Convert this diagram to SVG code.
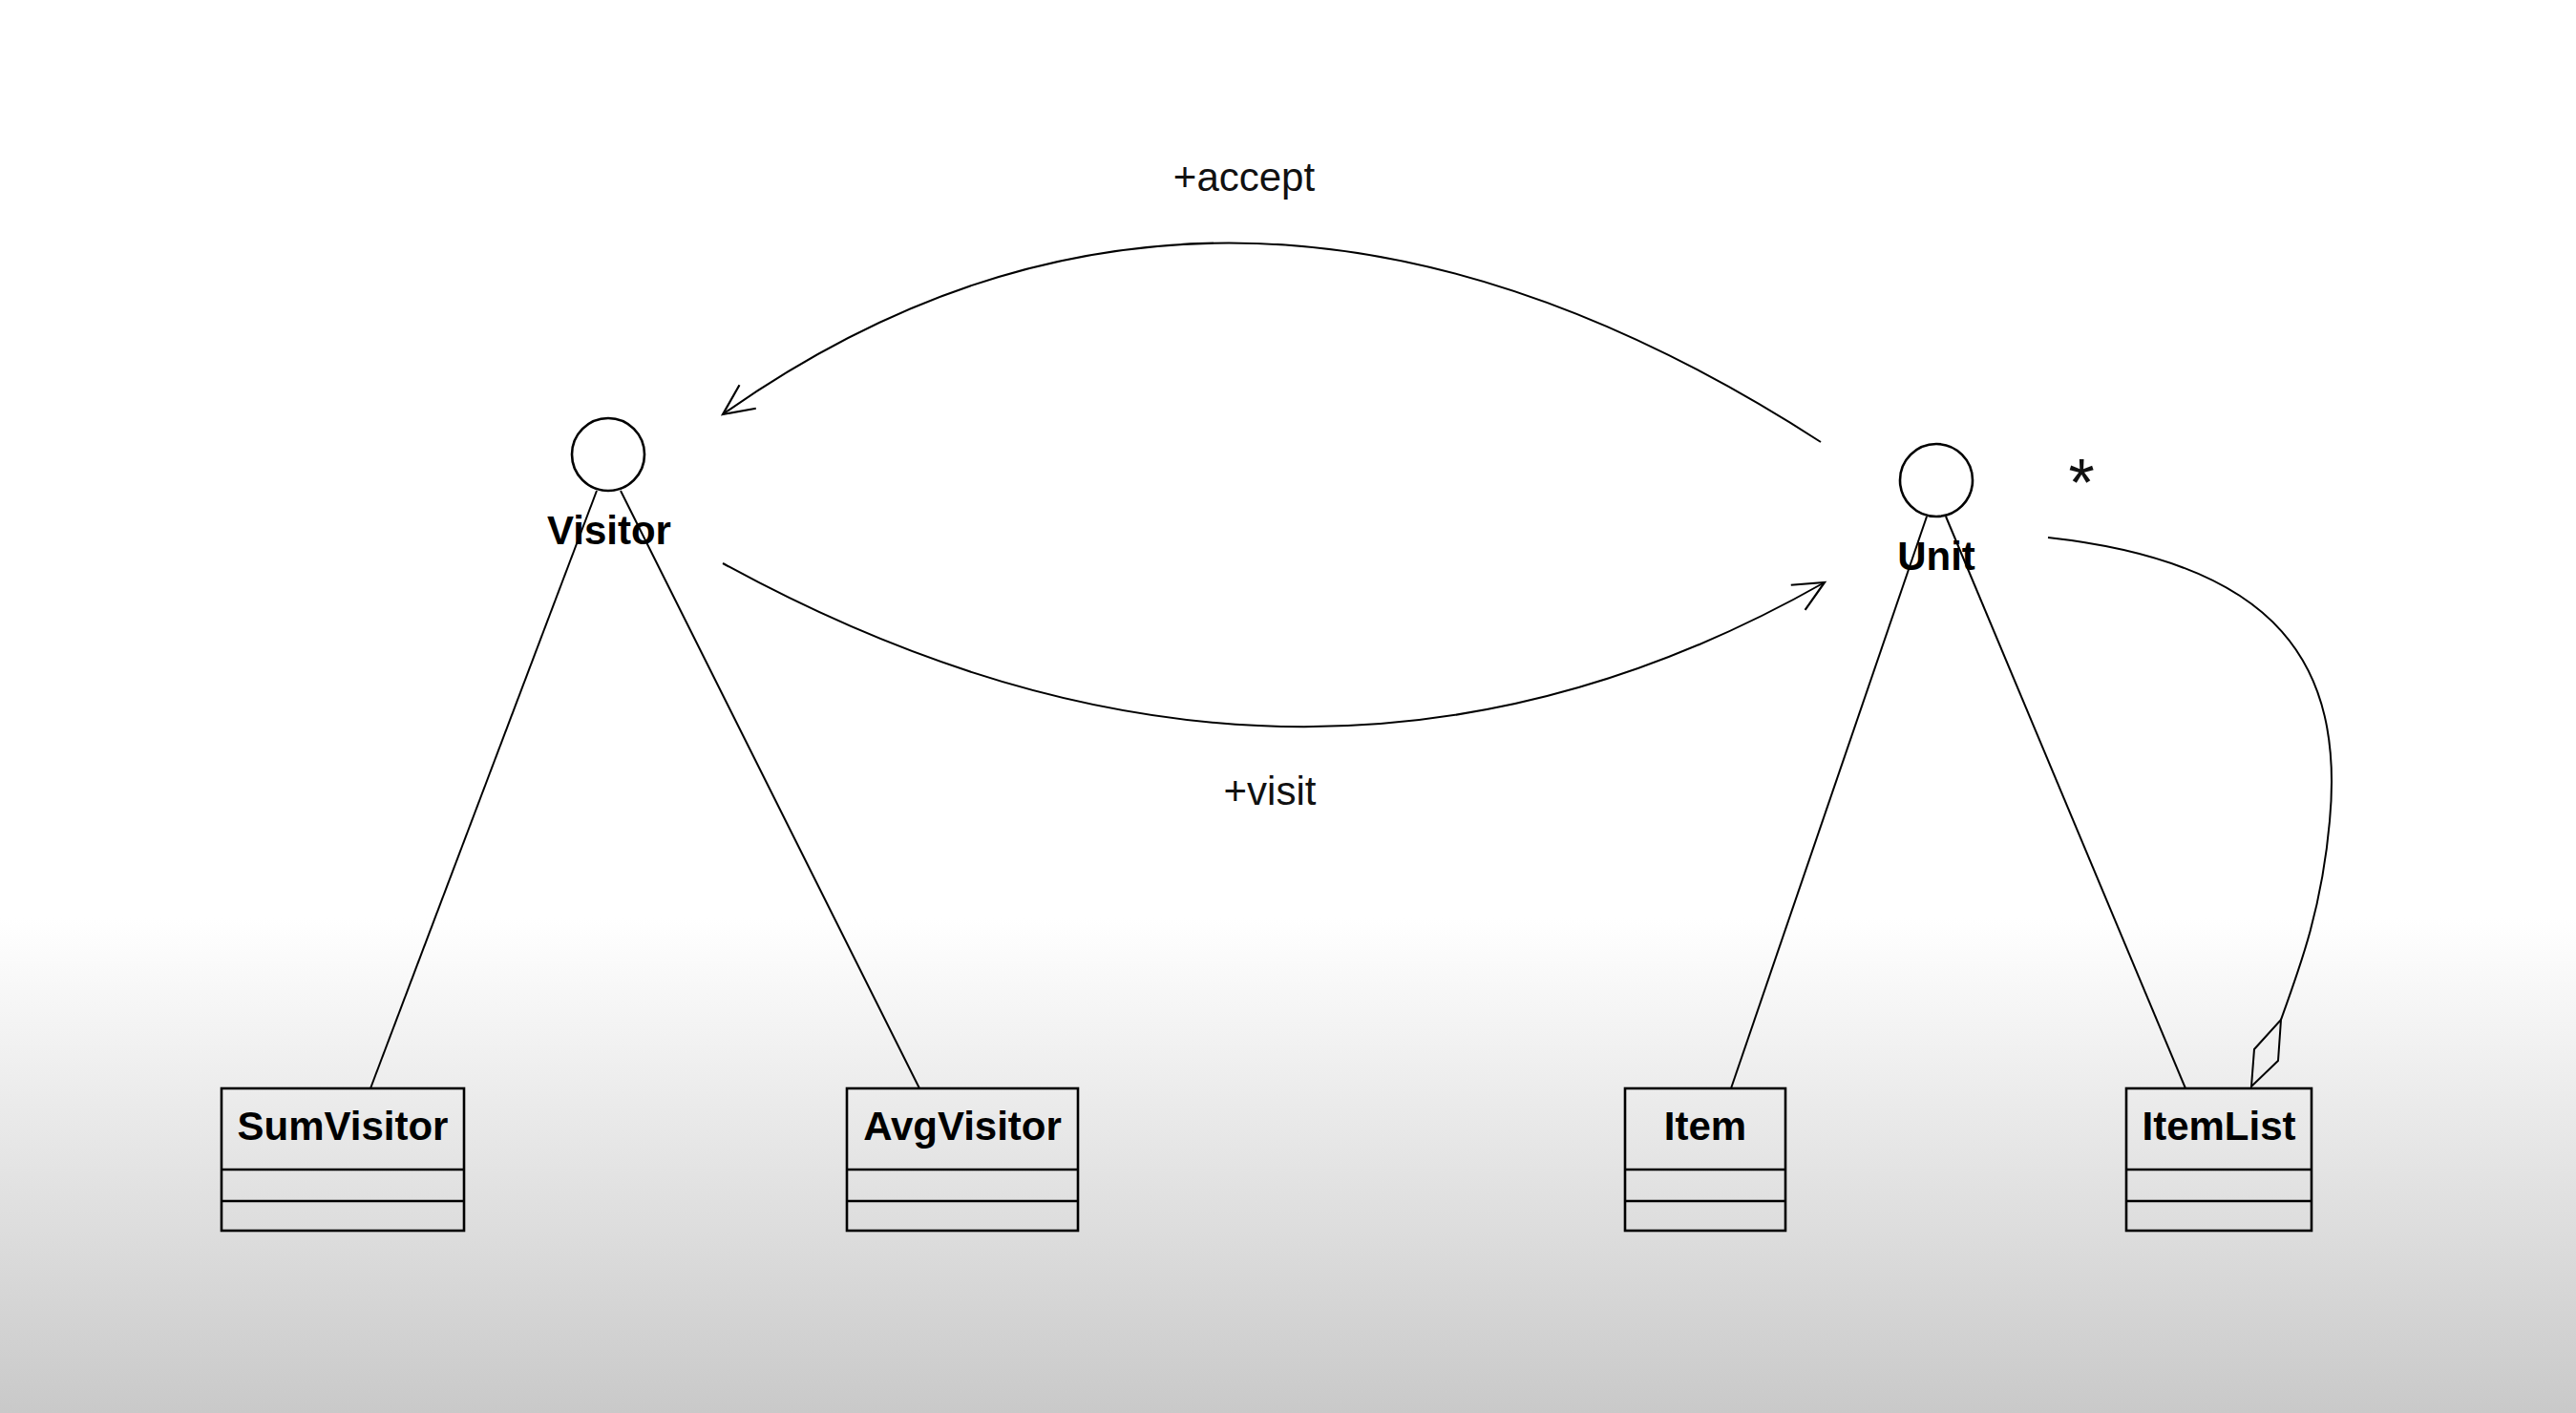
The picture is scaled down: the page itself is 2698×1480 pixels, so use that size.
<svg xmlns="http://www.w3.org/2000/svg" width="2698" height="1480" viewBox="0 0 2698 1480">
  <defs>
    <linearGradient id="bg" x1="0" y1="0" x2="0" y2="1480" gradientUnits="userSpaceOnUse">
      <stop offset="0" stop-color="#ffffff"/>
      <stop offset="0.65" stop-color="#ffffff"/>
      <stop offset="1" stop-color="#c9c9c9"/>
    </linearGradient>
    <marker id="open-arrow" viewBox="0 0 20 20" refX="18" refY="10" markerWidth="20" markerHeight="20" markerUnits="userSpaceOnUse" orient="auto" overflow="visible">
      <path d="M-14,-5 L18,10 L-14,25" fill="none" stroke="#000" stroke-width="2.2"/>
    </marker>
    <style>
      .line { fill: none; stroke: #000; stroke-width: 2; }
      .box { fill: none; stroke: #000; stroke-width: 2.6; }
      .iface { fill: #fff; stroke: #000; stroke-width: 2.6; }
      .name { font-family: "Liberation Sans", Arial, sans-serif; font-size: 42px; font-weight: bold; text-anchor: middle; fill: #000; }
      .label { font-family: "Liberation Sans", Arial, sans-serif; font-size: 42px; text-anchor: middle; fill: #111; }
    </style>
  </defs>

  <rect x="0" y="0" width="2698" height="1480" fill="url(#bg)"/>

  <!-- connectors -->
  <g id="connectors">
    <!-- realization lines from interfaces to classes -->
    <line class="line" x1="625" y1="514" x2="388" y2="1140"/>
    <line class="line" x1="650" y1="514" x2="963" y2="1140"/>
    <line class="line" x1="2018" y1="541" x2="1813" y2="1140"/>
    <line class="line" x1="2038" y1="541" x2="2289" y2="1140"/>
    <!-- Unit.accept(Visitor) -->
    <path class="line" d="M1907,463 Q1285,61 757,434" marker-end="url(#open-arrow)"/>
    <!-- Visitor.visit(Unit) -->
    <path class="line" d="M757,590 Q1362,922 1911,610" marker-end="url(#open-arrow)"/>
    <!-- ItemList aggregates Unit -->
    <path class="line" d="M2145,563 C2390,590 2455,700 2440,860 C2432,950 2410,1010 2389,1068"/>
    <polygon points="2389,1068 2386,1111 2358,1138 2361,1099" fill="none" stroke="#000" stroke-width="2"/>
    <text class="label" x="2180" y="530" style="font-size:70px">*</text>
    <text class="label" x="1303" y="200">+accept</text>
    <text class="label" x="1330" y="843">+visit</text>
  </g>

  <g id="visitor">
    <circle class="iface" cx="637" cy="476" r="38"/>
    <text class="name" x="638" y="570">Visitor</text>
  </g>

  <g id="unit">
    <circle class="iface" cx="2028" cy="503" r="38"/>
    <text class="name" x="2028" y="597">Unit</text>
  </g>

  <g id="sumvisitor">
    <rect class="box" x="232" y="1140" width="254" height="149"/>
    <line class="box" x1="232" y1="1225" x2="486" y2="1225"/>
    <line class="box" x1="232" y1="1258" x2="486" y2="1258"/>
    <text class="name" x="359" y="1194">SumVisitor</text>
  </g>

  <g id="avgvisitor">
    <rect class="box" x="887" y="1140" width="242" height="149"/>
    <line class="box" x1="887" y1="1225" x2="1129" y2="1225"/>
    <line class="box" x1="887" y1="1258" x2="1129" y2="1258"/>
    <text class="name" x="1008" y="1194">AvgVisitor</text>
  </g>

  <g id="item">
    <rect class="box" x="1702" y="1140" width="168" height="149"/>
    <line class="box" x1="1702" y1="1225" x2="1870" y2="1225"/>
    <line class="box" x1="1702" y1="1258" x2="1870" y2="1258"/>
    <text class="name" x="1786" y="1194">Item</text>
  </g>

  <g id="itemlist">
    <rect class="box" x="2227" y="1140" width="194" height="149"/>
    <line class="box" x1="2227" y1="1225" x2="2421" y2="1225"/>
    <line class="box" x1="2227" y1="1258" x2="2421" y2="1258"/>
    <text class="name" x="2324" y="1194">ItemList</text>
  </g>
</svg>
